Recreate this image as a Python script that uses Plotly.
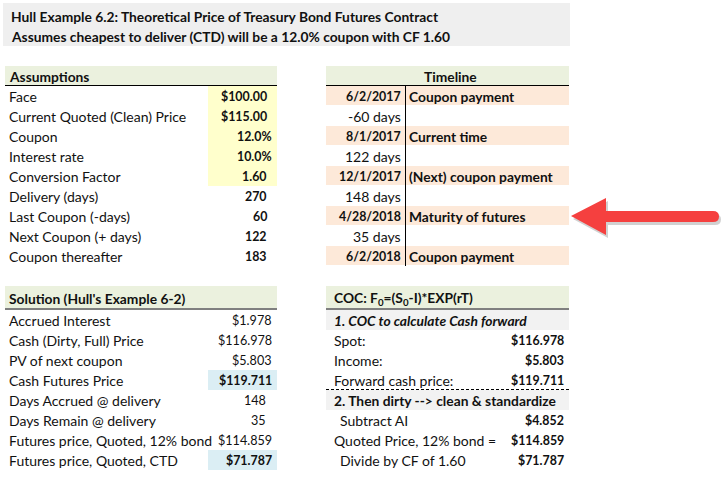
import plotly.graph_objects as go

title_lines = ["Hull Example 6.2: Theoretical Price of Treasury Bond Futures Contract",
               "Assumes cheapest to deliver (CTD) will be a 12.0% coupon with CF 1.60"]

assump_labels = ["Face", "Current Quoted (Clean) Price", "Coupon", "Interest rate",
                 "Conversion Factor", "Delivery (days)", "Last Coupon (-days)",
                 "Next Coupon (+ days)", "Coupon thereafter"]
assump_values = ["$100.00", "$115.00", "12.0%", "10.0%", "1.60", "270", "60", "122", "183"]

timeline_left = ["6/2/2017", "-60 days", "8/1/2017", "122 days", "12/1/2017",
                 "148 days", "4/28/2018", "35 days", "6/2/2018"]
timeline_right = ["Coupon payment", "", "Current time", "", "(Next) coupon payment",
                  "", "Maturity of futures", "", "Coupon payment"]

sol_labels = ["Accrued Interest", "Cash (Dirty, Full) Price", "PV of next coupon",
              "Cash Futures Price", "Days Accrued @ delivery", "Days Remain @ delivery",
              "Futures price, Quoted, 12% bond", "Futures price, Quoted, CTD"]
sol_values = ["$1.978", "$116.978", "$5.803", "$119.711", "148", "35", "$114.859", "$71.787"]
sol_bold = [False, False, False, True, False, False, False, True]

coc_labels = ["1. COC to calculate Cash forward", "Spot:", "Income:", "Forward cash price:",
              "2. Then dirty --> clean & standardize", " Subtract AI",
              "Quoted Price, 12% bond =", " Divide by CF of 1.60"]
coc_values = ["", "$116.978", "$5.803", "$119.711", "", "$4.852", "$114.859", "$71.787"]

FONT = "Lato, 'Noto Sans', sans-serif"
FS = 14.0
FSB = 13.8
FSN = 12.6    # numbers, regular
FSNB = 12.4   # numbers, bold
TXT = "#111111"

fig = go.Figure()
shapes = []
ann = []

def rect(x0, y0, x1, y1, color):
    shapes.append(dict(type="rect", x0=x0, y0=y0, x1=x1, y1=y1, fillcolor=color,
                       line=dict(width=0), layer="below"))

def line(x0, y0, x1, y1, color="black", width=1, dash="solid"):
    shapes.append(dict(type="line", x0=x0, y0=y0, x1=x1, y1=y1,
                       line=dict(color=color, width=width, dash=dash)))

def text(x, y, s, anchor="left", bold=False, italic=False, num=False):
    if num:
        size = FSNB if bold else FSN
    else:
        size = FSB if bold else FS
    if bold:
        s = "<b>" + s + "</b>"
    if italic:
        s = "<i>" + s + "</i>"
    ann.append(dict(x=x, y=y, text=s, xref="x", yref="y", showarrow=False,
                    xanchor=anchor, yanchor="middle",
                    font=dict(family=FONT, size=size, color=TXT)))

ROW = 20
L1 = 6.5     # left column text start
L2 = 331.5   # right block text start

# Title block
rect(3, 3, 570, 46, "#efefef")
text(8.5, 16, title_lines[0], bold=True)
text(8.5, 36, title_lines[1], bold=True)

# Assumptions
rect(5, 66, 277, 85, "#ebf1de")
line(5, 85.5, 277, 85.5)
text(L1, 76, "Assumptions", bold=True)
rect(208, 86, 277, 186, "#ffffcc")
for i, (lab, val) in enumerate(zip(assump_labels, assump_values)):
    y = 96 + i * ROW
    text(L1, y, lab)
    xr = 274 if val.endswith("%") else 269
    text(xr, y, val, anchor="right", bold=True, num=True)

# Timeline
rect(326, 66, 569, 85, "#ebf1de")
line(326, 85.5, 569, 85.5)
text(450, 76, "Timeline", anchor="center", bold=True)
for i, (l, r) in enumerate(zip(timeline_left, timeline_right)):
    y = 96 + i * ROW
    if r:
        rect(326, y - 10, 569, y + 9, "#fde9d9")
        text(403, y, l, anchor="right", bold=True, num=True)
        text(407, y, r, bold=True)
    else:
        text(403, y, l, anchor="right")
line(405.5, 86, 405.5, 266)

# Solution
rect(5, 286, 277, 308, "#ebf1de")
line(5, 309, 277, 309)
text(L1, 298, "Solution (Hull's Example 6-2)", bold=True)
for i, (lab, val, b) in enumerate(zip(sol_labels, sol_values, sol_bold)):
    y = 320 + i * ROW
    if b:
        rect(208, y - 10, 277, y + 10, "#dbeef4")
    text(L1, y, lab)
    xr = 268 if not val.startswith("$") else 274
    text(xr, y, val, anchor="right", bold=b, num=True)

# COC
rect(326, 286, 569, 308, "#ebf1de")
line(326, 309, 569, 309)
text(L2, 298, "COC: F<sub>0</sub>=(S<sub>0</sub>-I)*EXP(rT)", bold=True)
for i, (lab, val) in enumerate(zip(coc_labels, coc_values)):
    y = 320 + i * ROW
    if not val:
        rect(326, y - 10, 569, y + 10, "#f2f2f2")
        text(L2, y, lab, bold=True, italic=lab.startswith("1."))
    else:
        indent = L2 + 6 if lab.startswith(" ") else L2
        text(indent, y, lab.strip())
        text(566, y, val, anchor="right", bold=True, num=True)
line(326, 389.5, 569, 389.5, dash="3px,2px")

# Arrow shadow + arrow
def arrow_path(dx, dy):
    return (f"M {571+dx},{216+dy} L {606+dx},{198+dy} L {606+dx},{211+dy} "
            f"L {713+dx},{211+dy} Q {719+dx},{211+dy} {719+dx},{216.5+dy} "
            f"Q {719+dx},{222+dy} {713+dx},{222+dy} L {606+dx},{222+dy} "
            f"L {606+dx},{235+dy} Z")
shapes.append(dict(type="path", path=arrow_path(2, 3), fillcolor="rgba(0,0,0,0.18)",
                   line=dict(width=0)))
shapes.append(dict(type="path", path=arrow_path(0, 0), fillcolor="#f5403f",
                   line=dict(width=0)))

fig.update_layout(
    width=727, height=485, margin=dict(l=0, r=0, t=0, b=0),
    paper_bgcolor="white", plot_bgcolor="white",
    xaxis=dict(range=[0, 727], visible=False, fixedrange=True),
    yaxis=dict(range=[485, 0], visible=False, fixedrange=True),
    shapes=shapes, annotations=ann, showlegend=False,
)
fig.write_html("out.html", config={"displayModeBar": False},
               post_script="document.body.style.margin='0';document.body.style.overflow='hidden';")
